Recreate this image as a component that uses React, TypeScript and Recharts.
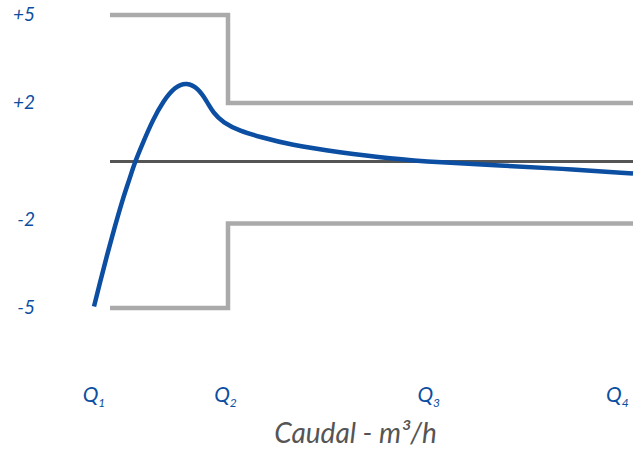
import React from 'react';
import { LineChart, Line, XAxis, YAxis, Label } from 'recharts';

// error curve (% error vs flow, flow scaled 0..100 across the plot)
const curveFlow = [0, 1.11, 2.41, 3.9, 5.38, 6.68, 7.42, 9.09, 10.95, 12.8, 15.03, 17.25, 19.29, 20.96, 22.08, 23.93, 27.09, 30.8, 36.36, 45.64, 54.92, 64.19, 75.3, 86.46, 100];
const curveError = [-4.95, -4.13, -3.2, -2.2, -1.25, -0.55, -0.1, 0.65, 1.43, 2.05, 2.56, 2.7, 2.5, 2.05, 1.67, 1.33, 1.04, 0.84, 0.57, 0.31, 0.1, -0.03, -0.14, -0.24, -0.41];

// tolerance limits (lower step sits a touch below -2 in the drawing)
const limitFlow = [2.97, 24.86, 24.86, 100];
const upperLimit = [5, 5, 2, 2];
const lowerLimit = [-5, -5, -2.12, -2.12];

const zeroFlow = [2.97, 100];
const zeroError = [0, 0];

const flowTicks = [0, 24.4, 62.1, 97.1];
const flowTickNames = ['1', '2', '3', '4'];
const errorTicks = [-5, -2, 2, 5];
const errorTickLabels = ['-5', '-2', '+2', '+5'];

const curveData = curveFlow.map((x, i) => ({ x, y: curveError[i] }));
const upperData = limitFlow.map((x, i) => ({ x, y: upperLimit[i] }));
const lowerData = limitFlow.map((x, i) => ({ x, y: lowerLimit[i] }));
const zeroData = zeroFlow.map((x, i) => ({ x, y: zeroError[i] }));

const BLUE = '#0b4ea2';
const FONT = 'Lato, "Open Sans", sans-serif';

const FlowTick = (props: any) => {
  const { x, y, payload } = props;
  const i = flowTicks.indexOf(payload.value);
  return (
    <text x={x} y={y + 86} textAnchor="middle" fill={BLUE} fontFamily={FONT} fontStyle="italic" fontSize={21}>
      Q
      <tspan fontSize={12} dy={5}>{flowTickNames[i]}</tspan>
    </text>
  );
};

const ErrorTick = (props: any) => {
  const { y, payload } = props;
  const i = errorTicks.indexOf(payload.value);
  return (
    <text x={35} y={y} dy={6} textAnchor="end" fill={BLUE} fontFamily={FONT} fontStyle="italic" fontSize={19}>
      {errorTickLabels[i]}
    </text>
  );
};

const App = () => {
  return (
    <div style={{ position: 'absolute', left: 0, top: 0, background: '#fff' }}>
      <LineChart width={644} height={449} margin={{ top: 15, right: 11, left: 0, bottom: 0 }}>
        <XAxis
          type="number"
          dataKey="x"
          domain={[0, 100]}
          ticks={flowTicks}
          tick={<FlowTick />}
          axisLine={false}
          tickLine={false}
          height={141}
          interval={0}
        >
          <Label
            value="Caudal - m³/h"
            position="insideBottom"
            offset={6}
            dx={-8}
            fill="#555"
            fontFamily={FONT}
            fontStyle="italic"
            fontSize={28}
          />
        </XAxis>
        <YAxis
          type="number"
          dataKey="y"
          domain={[-5, 5]}
          ticks={errorTicks}
          tick={<ErrorTick />}
          axisLine={false}
          tickLine={false}
          width={94}
          interval={0}
        />
        <Line data={upperData} dataKey="y" type="linear" stroke="#aaaaaa" strokeWidth={4.5} dot={false} activeDot={false} isAnimationActive={false} />
        <Line data={lowerData} dataKey="y" type="linear" stroke="#aaaaaa" strokeWidth={4.5} dot={false} activeDot={false} isAnimationActive={false} />
        <Line data={zeroData} dataKey="y" type="linear" stroke="#555555" strokeWidth={3} dot={false} activeDot={false} isAnimationActive={false} />
        <Line data={curveData} dataKey="y" type="basis" stroke={BLUE} strokeWidth={4.5} dot={false} activeDot={false} isAnimationActive={false} />
      </LineChart>
    </div>
  );
};

export default App;
